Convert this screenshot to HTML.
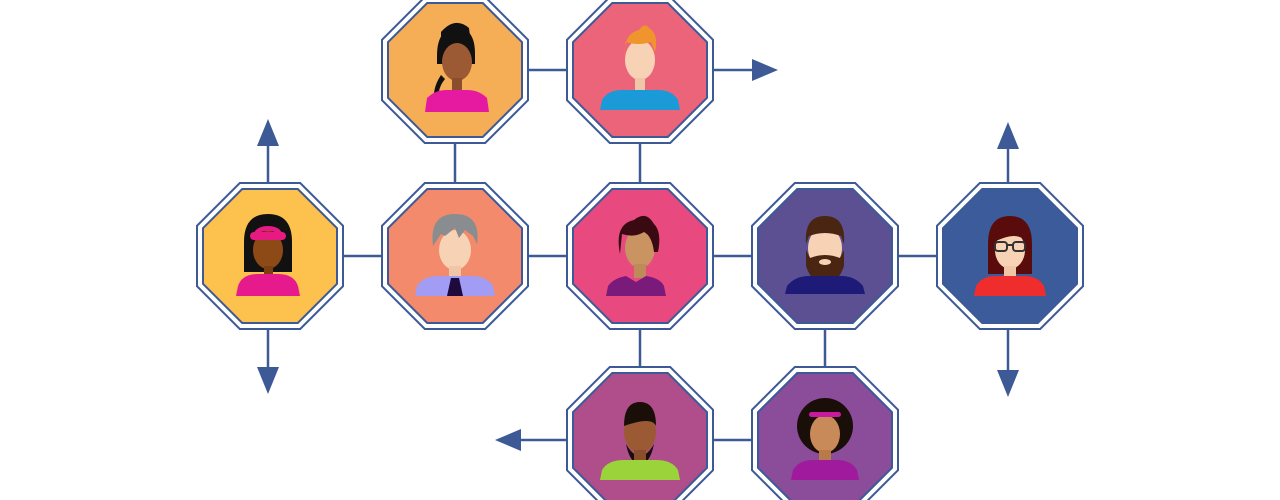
<!DOCTYPE html>
<html><head><meta charset="utf-8"><style>html,body{margin:0;padding:0;background:#fff;width:1280px;height:500px;overflow:hidden}</style></head>
<body>
<svg width="1280" height="500" viewBox="0 0 1280 500" xmlns="http://www.w3.org/2000/svg">
<defs>
<symbol id="oo" overflow="visible"><polygon points="-30.2,-73 30.2,-73 73,-30.2 73,30.2 30.2,73 -30.2,73 -73,30.2 -73,-30.2" fill="#fff" stroke="#3d5a96" stroke-width="2"/></symbol>
<symbol id="oi" overflow="visible"><polygon points="-27.8,-67 27.8,-67 67,-27.8 67,27.8 27.8,67 -27.8,67 -67,27.8 -67,-27.8" stroke="#3d5a96" stroke-width="2"/></symbol>
</defs>
<g stroke="#3d5a96" stroke-width="2.5" fill="none">
<line x1="270" y1="256" x2="1010" y2="256"/>
<line x1="455" y1="70" x2="760" y2="70"/>
<line x1="455" y1="0" x2="455" y2="256"/>
<line x1="640" y1="70" x2="640" y2="440"/>
<line x1="825" y1="256" x2="825" y2="440"/>
<line x1="510" y1="440" x2="825" y2="440"/>
<line x1="268" y1="140" x2="268" y2="375"/>
<line x1="1008" y1="140" x2="1008" y2="378"/>
</g>
<g fill="#3d5a96">
<polygon points="778,70 752,59 752,81"/>
<polygon points="495,440 521,429 521,451"/>
<polygon points="268,119 257,146 279,146"/>
<polygon points="268,394 257,367 279,367"/>
<polygon points="1008,122 997,149 1019,149"/>
<polygon points="1008,397 997,370 1019,370"/>
</g>
<!-- nodes -->
<g transform="translate(455,70)"><use href="#oo"/><use href="#oi" fill="#f5ad56"/>
<path d="M-18,-14 q0,-28 20,-28 q18,0 18,26 l0,10 -38,0z" fill="#111"/><ellipse cx="2" cy="-8" rx="15" ry="19" fill="#9c5a34"/><path d="M-14,-22 q14,-22 30,-4 l-2,-16 q-14,-12 -28,4z" fill="#111"/><path d="M-14,5 q-10,15 -6,30 l6,0 q-6,-14 4,-26z" fill="#111"/><rect x="-3" y="8" width="10" height="14" fill="#8a4e2c"/><path d="M-30,42 l2,-14 q8,-8 20,-8 l20,0 q12,0 20,8 l2,14z" fill="#e61aa0"/></g>
<g transform="translate(640,70)"><use href="#oo"/><use href="#oi" fill="#ec6479"/>
<ellipse cx="0" cy="-10" rx="15" ry="20" fill="#f7d2b4"/><path d="M-15,-14 q-2,-22 14,-26 q6,-8 10,-2 q10,6 6,24 l-4,-10 q-12,4 -26,0z" fill="#f0942d"/><rect x="-5" y="8" width="10" height="14" fill="#efc7a6"/><path d="M-40,40 l2,-10 q6,-10 20,-10 l36,0 q14,0 20,10 l2,10z" fill="#1a9ad6"/></g>
<g transform="translate(270,256)"><use href="#oo"/><use href="#oi" fill="#fdc24e"/>
<path d="M-26,16 l0,-30 q0,-28 24,-28 q24,0 24,28 l0,30z" fill="#111"/><ellipse cx="-2" cy="-6" rx="15" ry="19" fill="#8d4a17"/><path d="M-18,-14 q0,-16 16,-16 q16,0 16,16 l0,-6 q-16,-10 -32,0z" fill="#e61a80"/><rect x="-20" y="-24" width="36" height="8" rx="4" fill="#e61a80"/><rect x="-6" y="10" width="9" height="10" fill="#7a3f12"/><path d="M-34,40 l2,-10 q4,-12 20,-12 l20,0 q16,0 20,12 l2,10z" fill="#e61a8c"/></g>
<g transform="translate(455,256)"><use href="#oo"/><use href="#oi" fill="#f28a6b"/>
<ellipse cx="0" cy="-6" rx="16" ry="20" fill="#f7d2b4"/><path d="M-22,-10 q-4,-32 22,-32 q26,0 22,30 l-4,-8 -8,-6 -6,8 -4,-10 -10,8 -4,-2z" fill="#8a8d8f"/><rect x="-6" y="10" width="12" height="12" fill="#efc7a6"/><path d="M-40,40 l2,-10 q6,-10 22,-10 l32,0 q16,0 22,10 l2,10z" fill="#a29cf4"/><polygon points="-4,22 4,22 8,40 -8,40" fill="#1e0a3c"/></g>
<g transform="translate(640,256)"><use href="#oo"/><use href="#oi" fill="#e84a80"/>
<ellipse cx="0" cy="-8" rx="15" ry="20" fill="#c99362"/><path d="M-20,-2 q-6,-30 14,-34 q12,-10 20,4 q8,8 4,28 l-4,0 q-2,-16 -10,-20 q-10,6 -22,2z" fill="#3a0a12"/><rect x="-6" y="8" width="12" height="14" fill="#bf8a5a"/><path d="M-34,40 l2,-10 q6,-8 18,-10 l10,6 10,-6 q14,2 18,10 l2,10z" fill="#7a1a7a"/></g>
<g transform="translate(825,256)"><use href="#oo"/><use href="#oi" fill="#5c4f92"/>
<ellipse cx="0" cy="-8" rx="17" ry="21" fill="#f7d2b4"/><path d="M-19,-12 q-2,-28 19,-28 q21,0 19,28 l-3,-8 q-16,-6 -32,0z" fill="#4a2512"/><path d="M-19,-6 l0,16 q6,18 19,18 q13,0 19,-18 l0,-16 -4,8 q-15,-6 -30,0z" fill="#4a2512"/><ellipse cx="0" cy="6" rx="6" ry="3" fill="#f7d2b4"/><rect x="-6" y="26" width="12" height="4" fill="#efc7a6"/><path d="M-40,38 l2,-8 q8,-10 22,-10 l32,0 q14,0 22,10 l2,8z" fill="#1e1a78"/></g>
<g transform="translate(1010,256)"><use href="#oo"/><use href="#oi" fill="#3b5b9b"/>
<path d="M-22,18 l0,-30 q0,-28 22,-28 q22,0 22,28 l0,30z" fill="#5a0c0c"/><ellipse cx="0" cy="-6" rx="15" ry="19" fill="#f7d2b4"/><path d="M-16,-14 q0,-20 16,-20 q16,0 16,20 q-8,-12 -32,0z" fill="#5a0c0c"/><g fill="none" stroke="#333" stroke-width="2"><rect x="-15" y="-14" width="12" height="9" rx="3"/><rect x="3" y="-14" width="12" height="9" rx="3"/><line x1="-3" y1="-11" x2="3" y2="-11"/></g><rect x="-6" y="10" width="12" height="12" fill="#efc7a6"/><path d="M-36,40 l2,-10 q6,-10 20,-10 l28,0 q14,0 20,10 l2,10z" fill="#f02d2d"/></g>
<g transform="translate(640,440)"><use href="#oo"/><use href="#oi" fill="#b04e8c"/>
<ellipse cx="0" cy="-8" rx="16" ry="21" fill="#9c5a34"/><path d="M-16,-14 q0,-24 16,-24 q16,0 16,24 q-4,-10 -32,0z" fill="#1a0e08"/><path d="M-14,4 q14,24 28,0 q-4,20 -14,20 q-10,0 -14,-20z" fill="#1a0e08"/><rect x="-6" y="10" width="12" height="14" fill="#8a4e2c"/><path d="M-40,40 l2,-10 q6,-10 22,-10 l32,0 q16,0 22,10 l2,10z" fill="#9bd43a"/></g>
<g transform="translate(825,440)"><use href="#oo"/><use href="#oi" fill="#8b4c9a"/>
<circle cx="0" cy="-14" r="28" fill="#1a0e08"/><ellipse cx="0" cy="-6" rx="15" ry="19" fill="#c98a5a"/><rect x="-16" y="-28" width="32" height="5" rx="2.5" fill="#c81a9e"/><rect x="-6" y="10" width="12" height="12" fill="#b97a4a"/><path d="M-34,40 l2,-10 q6,-10 20,-10 l24,0 q14,0 20,10 l2,10z" fill="#a01a9e"/></g>
</svg>
</body></html>
